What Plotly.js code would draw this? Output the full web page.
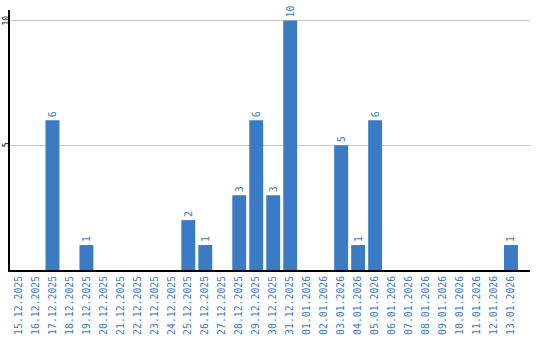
<!DOCTYPE html>
<html>
<head>
<meta charset="utf-8">
<script src="https://cdn.plot.ly/plotly-3.0.1.min.js"></script>
<style>html,body{margin:0;padding:0;background:#fff;}#chart{width:540px;height:340px;}</style>
</head>
<body>
<div id="chart"></div>
<script>
const dates = ["15.12.2025","16.12.2025","17.12.2025","18.12.2025","19.12.2025","20.12.2025","21.12.2025","22.12.2025","23.12.2025","24.12.2025","25.12.2025","26.12.2025","27.12.2025","28.12.2025","29.12.2025","30.12.2025","31.12.2025","01.01.2026","02.01.2026","03.01.2026","04.01.2026","05.01.2026","06.01.2026","07.01.2026","08.01.2026","09.01.2026","10.01.2026","11.01.2026","12.01.2026","13.01.2026"];
const counts = [0,0,6,0,1,0,0,0,0,0,2,1,0,3,6,3,10,0,0,5,1,6,0,0,0,0,0,0,0,1];
const yTicks = [5,10];

const labels = counts.map(v => v > 0 ? String(v) : "");
const blue = "#3a7bc4";

const yAnn = yTicks.map(v => ({
  xref: "paper", yref: "y", x: 0, y: v,
  text: String(v), showarrow: false,
  textangle: -90, xanchor: "center", yanchor: "middle", xshift: -4,
  borderpad: 0,
  font: {family: "DejaVu Sans Mono", size: 8, color: "#000"}
}));

Plotly.newPlot("chart", [{
  type: "bar",
  x: dates,
  y: counts,
  marker: {color: blue},
  text: labels,
  textposition: "outside",
  textangle: -90,
  cliponaxis: false,
  textfont: {family: "DejaVu Sans Mono", size: 10, color: blue},
  hoverinfo: "none"
}], {
  width: 540, height: 340,
  margin: {l: 10, r: 10, t: 10, b: 70, pad: 0},
  paper_bgcolor: "#fff", plot_bgcolor: "#fff",
  bargap: 0.18,
  showlegend: false,
  annotations: yAnn,
  xaxis: {
    type: "category",
    range: [-0.5, 30.12],
    tickangle: -90,
    tickfont: {family: "DejaVu Sans Mono", size: 9.8, color: blue},
    showline: true, linecolor: "#000", linewidth: 2,
    showgrid: false, ticks: "", ticklen: 0, automargin: false
  },
  yaxis: {
    range: [0, 10.42],
    tickvals: yTicks,
    showticklabels: false,
    showline: true, linecolor: "#000", linewidth: 2,
    showgrid: true, gridcolor: "#c8c8c8", gridwidth: 1,
    zeroline: false, ticks: "", automargin: false
  }
}, {staticPlot: true});
</script>
</body>
</html>
